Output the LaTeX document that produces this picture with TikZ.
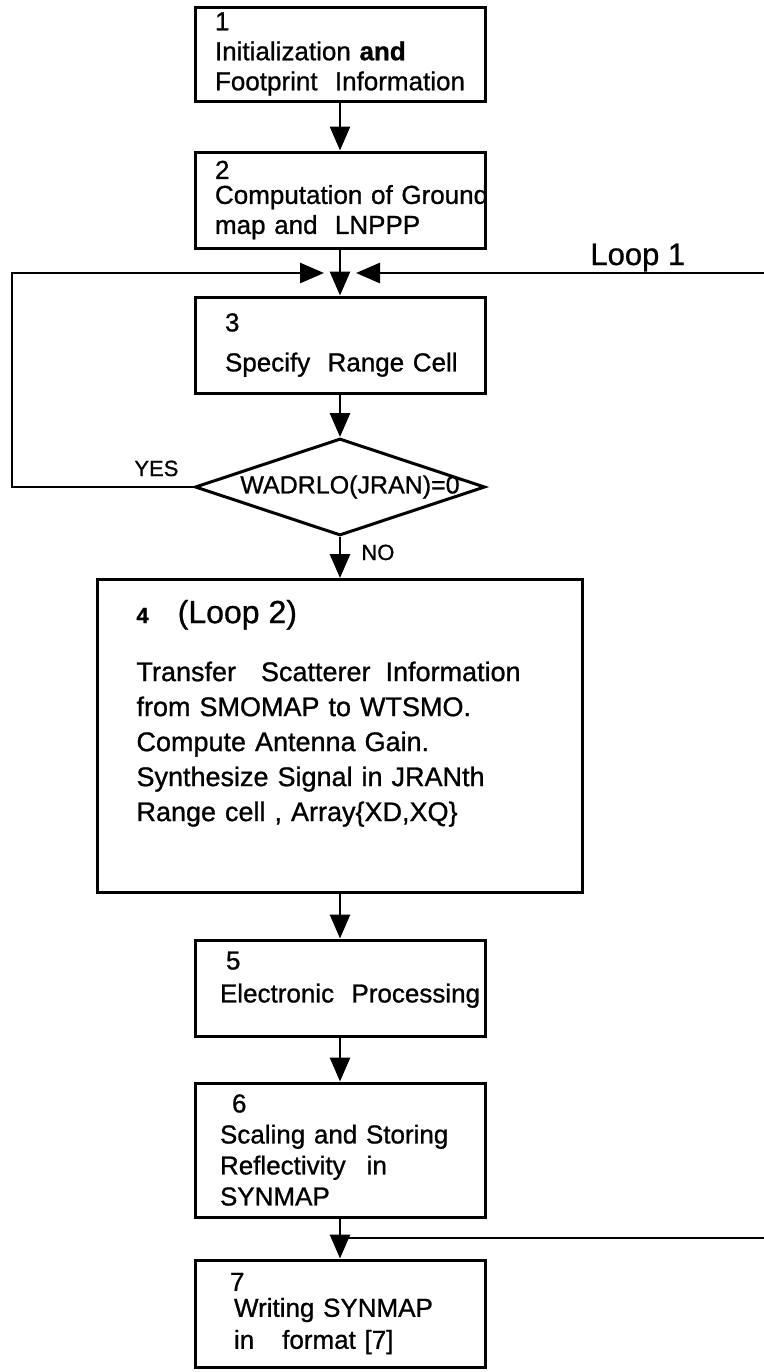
\documentclass[tikz,border=0pt]{standalone}
\usepackage{fontspec}
\setmainfont{Liberation Sans}[FakeBold=0.9]
\usetikzlibrary{shapes.geometric,arrows.meta}

\begin{document}
\begin{tikzpicture}[x=0.5pt,y=-0.5pt,
 box/.style={draw,line width=1.5pt,minimum width=145pt,inner ysep=0pt,align=left,font=\fontsize{13}{15}\selectfont},
 flow/.style={line width=1.4pt,-{Triangle[length=12pt,width=10pt]}},
 link/.style={line width=1.4pt},
 tag/.style={inner sep=0pt}]
 \useasboundingbox (0,0) rectangle (764,1372);

 % steps of the synthesis program
 \node[box,minimum height=47pt,inner xsep=10pt,text width=125pt] (init) at (340,54) {1\\Initialization \textbf{and}\\\mbox{Footprint\ \ Information}};
 \node[box,minimum height=48pt,inner xsep=10pt,text width=125pt] (ground) at (340,200) {2\\[-2.5pt]\mbox{Computation of Ground}\\map and\ \ LNPPP};
 \node[box,minimum height=48pt,inner xsep=15pt,text width=115pt] (range) at (340,345) {3\\[5pt]\mbox{Specify\ \ Range Cell}};
 \node[diamond,draw,line width=1.5pt,minimum width=145pt,minimum height=48.5pt,inner sep=0pt,font=\fontsize{12.5}{14}\selectfont] (test) at (340,487) {\makebox[0pt]{\hspace{10pt}WADRLO(JRAN)=0}};
 \node[box,minimum width=242.5pt,minimum height=156.5pt,inner xsep=19.5pt,text width=203.5pt,font=\fontsize{13.5}{17.5}\selectfont] (synth) at (340,736) {{\fontsize{11}{12}\selectfont\bfseries 4}\hspace{14.5pt}{\fontsize{16}{17.5}\selectfont (Loop 2)}\\[11.5pt]\mbox{Transfer\hspace{12.5pt}Scatterer\hspace{7.5pt}Information}\\from SMOMAP to WTSMO.\\Compute Antenna Gain.\\Synthesize Signal in JRANth\\Range cell , Array\{XD,XQ\}\\[8pt]\mbox{}};
 \node[box,minimum height=48pt,inner xsep=12.5pt,text width=120pt] (elec) at (340,988) {\hspace{3pt}5\\[1.5pt]\mbox{Electronic\ \ Processing}\\[-4pt]\mbox{}};
 \node[box,minimum height=67pt,inner xsep=12.5pt,text width=120pt,font=\fontsize{13}{15.5}\selectfont] (store) at (340,1150) {\hspace{6pt}6\\Scaling and Storing\\Reflectivity\hspace{10.5pt}in\\SYNMAP};
 \node[box,minimum height=53.5pt,inner xsep=19.5pt,text width=106pt] (write) at (340,1313.5) {\hspace{-2pt}7\\[-2pt]Writing SYNMAP\\[1pt]in\hspace{14pt}format [7]};

 % loop ends and joins
 \coordinate (join1) at (340,273);
 \coordinate (back1) at (12,273);
 \coordinate (loop1end) at (764,273);
 \coordinate (join2) at (340,1238);
 \coordinate (loop2end) at (764,1238);

 \draw[flow] (init) -- (ground);
 \draw[flow] (ground) -- (range);
 \draw[flow] (range) -- (test);
 \draw[flow] (test) -- (synth);
 \draw[flow] (synth) -- (elec);
 \draw[flow] (elec) -- (store);
 \draw[flow] (store) -- (write);
 \draw[flow,shorten >=8pt] (test.west) -| (back1) -- (join1);
 \draw[flow,shorten >=8pt] (loop1end) -- (join1);
 \draw[link] (loop2end) -- (join2);

 \node[tag,anchor=base west,font=\fontsize{15.5}{18}\selectfont] (loop1) at (590,265) {Loop 1};
 \node[tag,anchor=base west,font=\fontsize{11}{13}\selectfont] (yes) at (134,476) {YES};
 \node[tag,anchor=base west,font=\fontsize{11}{13}\selectfont] (no) at (361,560) {NO};
\end{tikzpicture}
\end{document}
